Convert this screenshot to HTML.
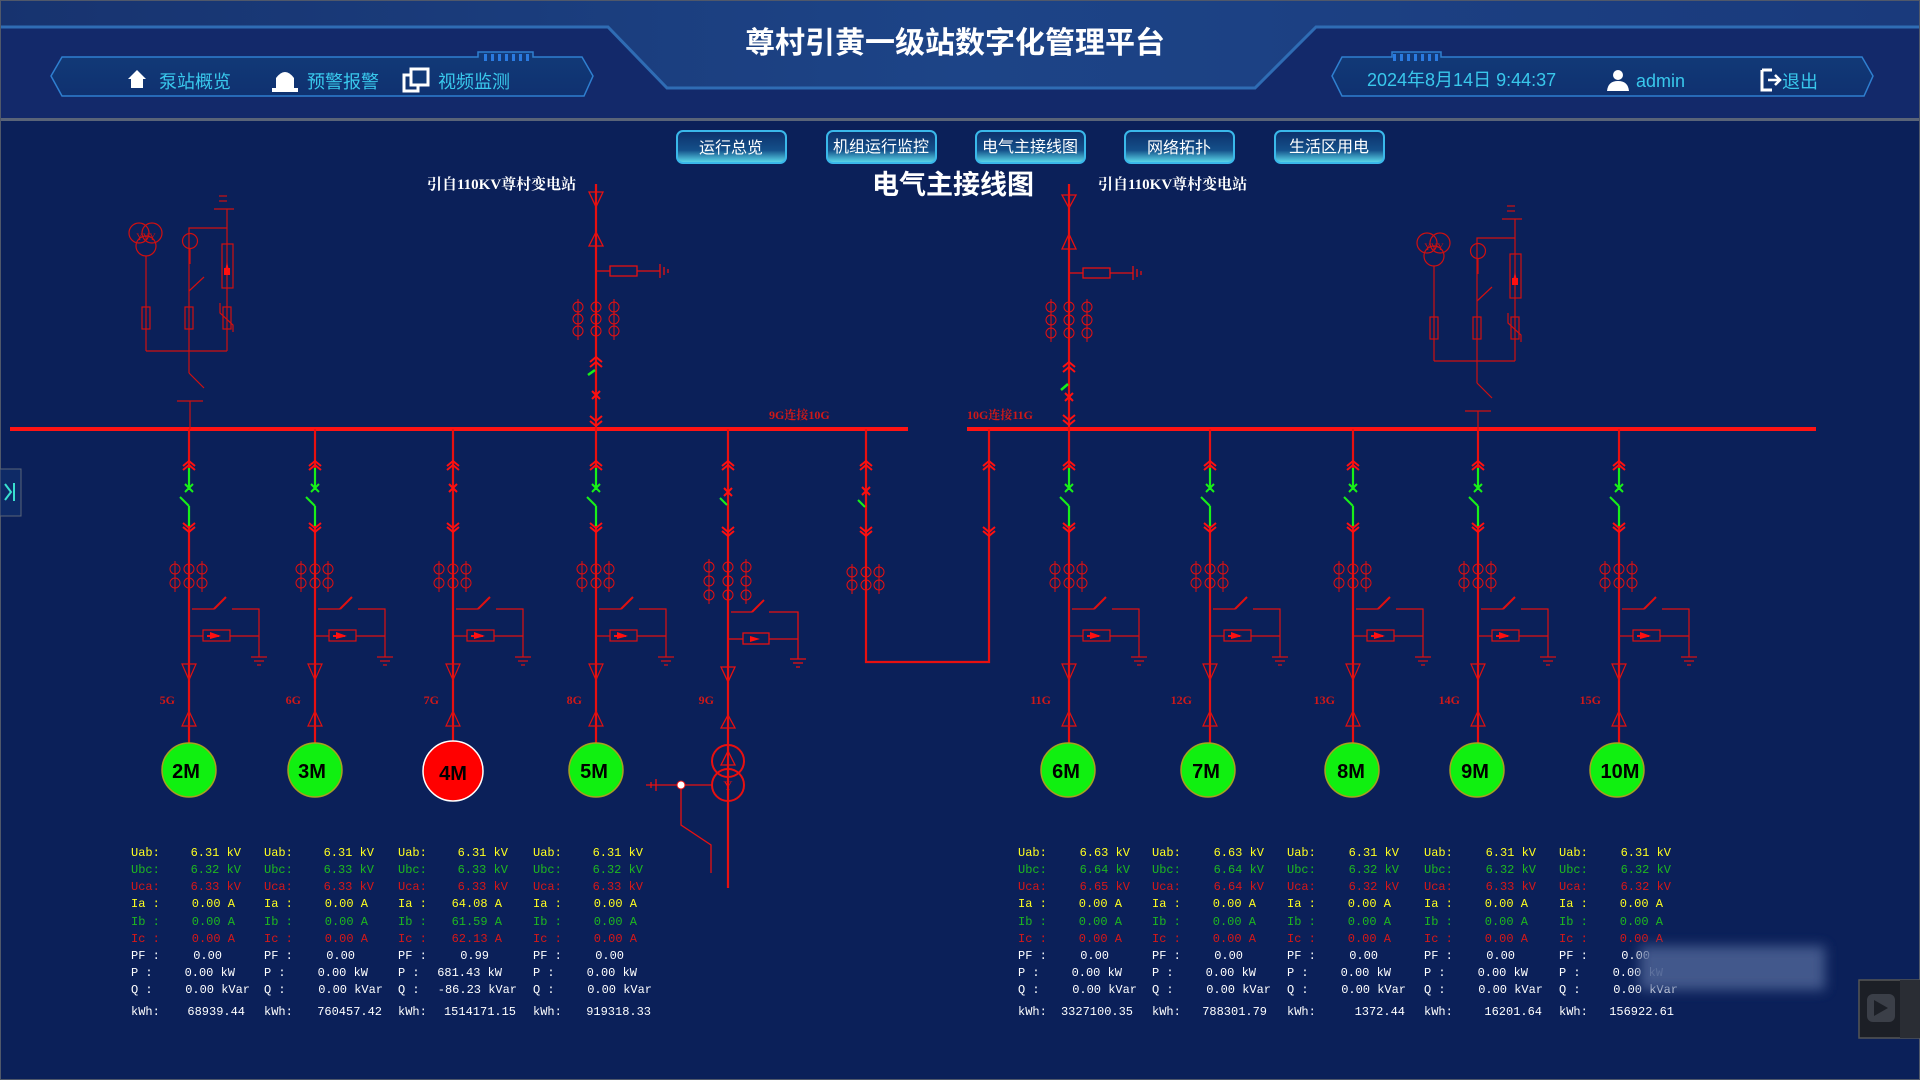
<!DOCTYPE html>
<html><head><meta charset="utf-8"><style>
html,body{margin:0;padding:0;background:#0b2059;}
svg{display:block;}
.t{font-family:"Liberation Mono","Noto Sans CJK SC",monospace;font-size:12px;}
</style></head><body>
<svg width="1920" height="1080" viewBox="0 0 1920 1080" xmlns="http://www.w3.org/2000/svg">
<defs>
<filter id="blur" x="-20%" y="-50%" width="140%" height="200%"><feGaussianBlur stdDeviation="6"/></filter>
<linearGradient id="hb" x1="0" y1="0" x2="1" y2="0"><stop offset="0" stop-color="#17336f"/><stop offset="0.5" stop-color="#1d4487"/><stop offset="1" stop-color="#1a3a7c"/></linearGradient>
<linearGradient id="btn" x1="0" y1="0" x2="0" y2="1"><stop offset="0" stop-color="#0d2f6a"/><stop offset="0.6" stop-color="#14508a"/><stop offset="1" stop-color="#5fe0f0"/></linearGradient>
<linearGradient id="nav" x1="0" y1="0" x2="0" y2="1"><stop offset="0" stop-color="#123a78"/><stop offset="1" stop-color="#0f3170"/></linearGradient>
<g id="ct"><g fill="none" stroke="#e01010" stroke-width="1">
<circle cx="-14" cy="569" r="5"/><circle cx="0" cy="569" r="5"/><circle cx="13" cy="569" r="5"/>
<circle cx="-14" cy="583" r="5"/><circle cx="0" cy="583" r="5"/><circle cx="13" cy="583" r="5"/>
<line x1="-14" y1="561" x2="-14" y2="592"/><line x1="13" y1="561" x2="13" y2="592"/></g></g>
<g id="low"><g fill="none" stroke="#e01010">
<use href="#ct"/>
<line x1="3" y1="609" x2="25" y2="609" stroke-width="1.2"/>
<line x1="25" y1="609" x2="37" y2="597" stroke-width="2"/>
<polyline points="43,609 70,609 70,657" stroke-width="1.2"/>
<line x1="62" y1="657" x2="78" y2="657" stroke-width="1.2"/><line x1="65" y1="661" x2="75" y2="661" stroke-width="1.2"/><line x1="68" y1="665" x2="72" y2="665" stroke-width="1.2"/>
<line x1="0" y1="636" x2="14" y2="636" stroke-width="1.2"/>
<rect x="14" y="630" width="27" height="11" stroke-width="1.2"/>
<line x1="41" y1="636" x2="70" y2="636" stroke-width="1.2"/>
<polygon points="-7,664 7,664 0,680" stroke-width="1.2"/>
<polygon points="0,711 -7,726 7,726" stroke-width="1.2"/>
</g><polygon points="21,632 32,636 21,639" fill="#ff1010"/><line x1="18" y1="636" x2="30" y2="636" stroke="#ff1010" stroke-width="2"/></g>
<g id="chev"><g fill="none" stroke="#ff1010" stroke-width="2">
<polyline points="-6,466 0,461 6,466"/><polyline points="-6,470 0,465 6,470"/>
<polyline points="-6,523 0,528 6,523"/><polyline points="-6,527 0,532 6,527"/></g></g>
<g id="fg"><line x1="0" y1="429" x2="0" y2="468" stroke="#e81010" stroke-width="2.2"/>
<line x1="0" y1="526" x2="0" y2="743" stroke="#e81010" stroke-width="2.2"/>
<line x1="0" y1="468" x2="0" y2="490" stroke="#18f018" stroke-width="2.2"/>
<line x1="0" y1="506" x2="0" y2="526" stroke="#18f018" stroke-width="2.2"/>
<line x1="-9" y1="497" x2="0" y2="506" stroke="#18f018" stroke-width="2"/>
<path d="M-4,484 L4,492 M4,484 L-4,492" stroke="#18f018" stroke-width="2"/>
<use href="#chev"/><use href="#low"/></g>
<g id="fr"><line x1="0" y1="429" x2="0" y2="743" stroke="#e81010" stroke-width="2.2"/>
<path d="M-4,484 L4,492 M4,484 L-4,492" stroke="#ff1010" stroke-width="2"/>
<use href="#chev"/><use href="#low"/></g>
<g id="pt"><g fill="none" stroke="#d01010" stroke-width="1.2">
<line x1="30" y1="196" x2="38" y2="196"/><line x1="30" y1="201" x2="38" y2="201"/><line x1="25" y1="209" x2="45" y2="209"/>
<line x1="38" y1="209" x2="38" y2="351"/>
<polyline points="0,291 0,228 38,228"/>
<circle cx="1" cy="241" r="7.5"/><line x1="1" y1="248" x2="1" y2="264"/>
<line x1="0" y1="291" x2="15" y2="277"/><line x1="0" y1="291" x2="0" y2="351"/>
<rect x="-47" y="307" width="8" height="22"/><rect x="-4" y="307" width="8" height="22"/><rect x="34" y="307" width="8" height="22"/>
<path d="M31,303 L31,313 L44,325 L44,332"/>
<rect x="33" y="244" width="11" height="44"/>
<circle cx="-50" cy="233" r="10"/><circle cx="-37" cy="233" r="10"/><circle cx="-43" cy="246" r="10"/>
<line x1="-43" y1="256" x2="-43" y2="351"/>
<line x1="-43" y1="351" x2="38" y2="351"/>
<line x1="0" y1="351" x2="0" y2="373"/><line x1="0" y1="373" x2="15" y2="388"/>
<line x1="-12" y1="401" x2="14" y2="401"/><line x1="1" y1="401" x2="1" y2="429"/>
</g><polygon points="38,262 35,275 41,275" fill="#ff1010"/><rect x="35" y="268" width="6" height="7" fill="#ff1010"/>
<text x="-43" y="240" font-size="9" fill="#d01010" font-family="Liberation Serif" text-anchor="middle">YYY</text></g>
</defs>

<rect x="0" y="0" width="1920" height="120" fill="url(#hb)"/>
<polygon points="0,27 608,27 667,88 1255,88 1316,27 1920,27 1920,120 0,120" fill="#13296a"/>
<polyline points="0,27 608,27 667,88 1255,88 1316,27 1920,27" fill="none" stroke="#2f6cb4" stroke-width="3"/>
<rect x="0" y="118" width="1920" height="3" fill="#5a6478"/>
<rect x="0" y="0" width="1920" height="1080" fill="none" stroke="#50586a" stroke-width="2"/>
<text x="955" y="53" text-anchor="middle" font-family="Liberation Sans,'Noto Sans CJK SC',sans-serif" font-size="30" font-weight="bold" fill="#fff">尊村引黄一级站数字化管理平台</text>
<polygon points="62,57 478,57 478,52 533,52 533,57 582,57 593,76 584,96 62,96 51,76" fill="url(#nav)" stroke="#2f7fd0" stroke-width="1.5"/>
<g fill="#2a7ae0"><rect x="484" y="54" width="3" height="7"/><rect x="491" y="54" width="3" height="7"/><rect x="498" y="54" width="3" height="7"/><rect x="505" y="54" width="3" height="7"/><rect x="512" y="54" width="3" height="7"/><rect x="519" y="54" width="3" height="7"/><rect x="526" y="54" width="3" height="7"/></g>
<polygon points="137,70 128,79 131,79 131,88 143,88 143,79 146,79" fill="#fff"/>
<path d="M276,89 L276,78 Q285,66 294,78 L294,89 Z" fill="#fff"/><rect x="272" y="88" width="26" height="4" fill="#fff"/>
<rect x="404" y="75" width="14" height="16" fill="none" stroke="#fff" stroke-width="3"/><rect x="411" y="69" width="17" height="16" fill="#123a78" stroke="#fff" stroke-width="3"/>
<g font-family="Liberation Sans,'Noto Sans CJK SC',sans-serif" font-size="18" fill="#39c8ec">
<text x="159" y="88">泵站概览</text><text x="307" y="88">预警报警</text><text x="438" y="88">视频监测</text></g>
<polygon points="1342,57 1392,57 1392,52 1441,52 1441,57 1862,57 1873,76 1864,96 1342,96 1332,76" fill="url(#nav)" stroke="#2f7fd0" stroke-width="1.5"/>
<g fill="#2a7ae0"><rect x="1393" y="54" width="3" height="7"/><rect x="1400" y="54" width="3" height="7"/><rect x="1407" y="54" width="3" height="7"/><rect x="1414" y="54" width="3" height="7"/><rect x="1421" y="54" width="3" height="7"/><rect x="1428" y="54" width="3" height="7"/><rect x="1435" y="54" width="3" height="7"/></g>
<g font-family="Liberation Sans,'Noto Sans CJK SC',sans-serif" font-size="18" fill="#39c8ec">
<text x="1367" y="86">2024年8月14日 9:44:37</text><text x="1636" y="87">admin</text><text x="1782" y="88">退出</text></g>
<circle cx="1618" cy="75" r="5" fill="#fff"/><path d="M1607,91 Q1608,81 1618,81 Q1628,81 1629,91 Z" fill="#fff"/>
<path d="M1762,70 L1762,90 L1772,90 M1762,70 L1772,70" fill="none" stroke="#fff" stroke-width="3"/><path d="M1768,80 L1779,80 M1775,75 L1780,80 L1775,85" fill="none" stroke="#fff" stroke-width="2.5"/>
<g font-family="Liberation Sans,'Noto Sans CJK SC',sans-serif" font-size="16" fill="#fff" text-anchor="middle" stroke="#3ab8ea" stroke-width="2">
<rect x="677" y="131" width="109" height="32" rx="6" fill="url(#btn)"/>
<rect x="827" y="131" width="109" height="32" rx="6" fill="url(#btn)"/>
<rect x="976" y="131" width="109" height="32" rx="6" fill="url(#btn)"/>
<rect x="1125" y="131" width="109" height="32" rx="6" fill="url(#btn)"/>
<rect x="1275" y="131" width="109" height="32" rx="6" fill="url(#btn)"/>
<g stroke="none"><text x="731" y="153">运行总览</text><text x="881" y="152">机组运行监控</text><text x="1030" y="152">电气主接线图</text><text x="1179" y="153">网络拓扑</text><text x="1329" y="152">生活区用电</text></g></g>
<text x="953" y="194" text-anchor="middle" font-family="Liberation Sans,'Noto Sans CJK SC',sans-serif" font-size="27" font-weight="bold" fill="#fff">电气主接线图</text>
<g font-family="Liberation Serif,'Noto Serif CJK SC',serif" font-size="15" font-weight="bold" fill="#fff"><text x="427" y="189">引自110KV尊村变电站</text><text x="1098" y="189">引自110KV尊村变电站</text></g>
<rect x="0" y="469" width="21" height="47" fill="#0e2a66" stroke="#5a6478"/>
<path d="M5,484 L11,492 L5,500 M14,483 L14,501" fill="none" stroke="#39e0d0" stroke-width="2"/>

<rect x="10" y="427" width="898" height="4" fill="#ff1414"/>
<rect x="967" y="427" width="849" height="4" fill="#ff1414"/>
<g font-family="Liberation Serif,'Noto Serif CJK SC',serif" font-size="12" font-weight="bold" fill="#d01818"><text x="769" y="419">9G连接10G</text><text x="967" y="419">10G连接11G</text></g>

<use href="#pt" x="189" y="0"/>
<use href="#pt" x="1477" y="10"/>

<g fill="none" stroke="#e81010" stroke-width="1.3">
<line x1="596" y1="184" x2="596" y2="429" stroke-width="2.2"/>
<polygon points="589,192 603,192 596,207"/><polygon points="596,232 589,246 603,246"/>
<rect x="610" y="266" width="27" height="10"/><line x1="596" y1="271" x2="610" y2="271"/><line x1="637" y1="271" x2="660" y2="271"/>
<line x1="660" y1="264" x2="660" y2="278"/><line x1="664" y1="267" x2="664" y2="275"/><line x1="668" y1="269" x2="668" y2="273"/>
<g stroke-width="1"><circle cx="578" cy="307" r="5"/><circle cx="596" cy="307" r="5"/><circle cx="614" cy="307" r="5"/><circle cx="578" cy="319" r="5"/><circle cx="596" cy="319" r="5"/><circle cx="614" cy="319" r="5"/><circle cx="578" cy="331" r="5"/><circle cx="596" cy="331" r="5"/><circle cx="614" cy="331" r="5"/><line x1="578" y1="299" x2="578" y2="340"/><line x1="614" y1="299" x2="614" y2="340"/></g>
<g stroke="#ff1010" stroke-width="2"><polyline points="590,362 596,357 602,362"/><polyline points="590,367 596,362 602,367"/><polyline points="590,416 596,421 602,416"/><polyline points="590,421 596,426 602,421"/>
<path d="M592,391 L600,399 M600,391 L592,399"/></g></g>
<line x1="588" y1="375" x2="595" y2="370" stroke="#18f018" stroke-width="2.5"/>
<g fill="none" stroke="#e81010" stroke-width="1.3">
<line x1="1069" y1="184" x2="1069" y2="429" stroke-width="2.2"/>
<polygon points="1062,195 1076,195 1069,208"/><polygon points="1069,234 1062,249 1076,249"/>
<rect x="1083" y="268" width="27" height="10"/><line x1="1069" y1="273" x2="1083" y2="273"/><line x1="1110" y1="273" x2="1133" y2="273"/>
<line x1="1133" y1="266" x2="1133" y2="280"/><line x1="1137" y1="269" x2="1137" y2="277"/><line x1="1141" y1="271" x2="1141" y2="275"/>
<g stroke-width="1"><circle cx="1051" cy="307" r="5"/><circle cx="1069" cy="307" r="5"/><circle cx="1087" cy="307" r="5"/><circle cx="1051" cy="320" r="5"/><circle cx="1069" cy="320" r="5"/><circle cx="1087" cy="320" r="5"/><circle cx="1051" cy="333" r="5"/><circle cx="1069" cy="333" r="5"/><circle cx="1087" cy="333" r="5"/><line x1="1051" y1="299" x2="1051" y2="342"/><line x1="1087" y1="299" x2="1087" y2="342"/></g>
<g stroke="#ff1010" stroke-width="2"><polyline points="1063,367 1069,362 1075,367"/><polyline points="1063,372 1069,367 1075,372"/><polyline points="1063,415 1069,420 1075,415"/><polyline points="1063,420 1069,425 1075,420"/>
<path d="M1065,393 L1073,401 M1073,393 L1065,401"/></g></g>
<line x1="1061" y1="390" x2="1068" y2="384" stroke="#18f018" stroke-width="2.5"/>

<use href="#fg" x="189"/><use href="#fg" x="315"/><use href="#fr" x="453"/><use href="#fg" x="596"/>
<use href="#fg" x="1069"/><use href="#fg" x="1210"/><use href="#fg" x="1353"/><use href="#fg" x="1478"/><use href="#fg" x="1619"/>

<g fill="none" stroke="#e81010" stroke-width="1.3">
<line x1="728" y1="429" x2="728" y2="888" stroke-width="2.2"/>
<g stroke="#ff1010" stroke-width="2"><polyline points="722,466 728,461 734,466"/><polyline points="722,470 728,465 734,470"/><polyline points="722,527 728,532 734,527"/><polyline points="722,531 728,536 734,531"/><path d="M724,488 L732,496 M732,488 L724,496"/></g>
<g stroke-width="1"><circle cx="709" cy="567" r="5"/><circle cx="728" cy="567" r="5"/><circle cx="746" cy="567" r="5"/><circle cx="709" cy="581" r="5"/><circle cx="728" cy="581" r="5"/><circle cx="746" cy="581" r="5"/><circle cx="709" cy="595" r="5"/><circle cx="728" cy="595" r="5"/><circle cx="746" cy="595" r="5"/><line x1="709" y1="559" x2="709" y2="604"/><line x1="746" y1="559" x2="746" y2="604"/></g>
<line x1="731" y1="612" x2="752" y2="612"/><line x1="752" y1="612" x2="764" y2="600" stroke-width="2"/>
<polyline points="769,612 798,612 798,659"/><line x1="790" y1="659" x2="806" y2="659"/><line x1="793" y1="663" x2="803" y2="663"/><line x1="796" y1="667" x2="800" y2="667"/>
<line x1="728" y1="639" x2="743" y2="639"/><rect x="743" y="633" width="26" height="11"/><line x1="769" y1="639" x2="798" y2="639"/>
<polygon points="721,667 735,667 728,682"/><polygon points="728,715 721,728 735,728"/>
<circle cx="728" cy="761" r="16" stroke-width="2"/><circle cx="728" cy="785" r="16" stroke-width="2"/>
<polygon points="728,751 721,765 735,765"/>
<line x1="646" y1="785" x2="712" y2="785"/><line x1="656" y1="779" x2="656" y2="791"/><line x1="651" y1="782" x2="651" y2="788"/>
<polyline points="681,785 681,825 711,845 711,873"/>
</g>
<polygon points="750,636 760,639 750,642" fill="#ff1010"/>
<text x="728" y="790" text-anchor="middle" font-family="Liberation Serif" font-size="13" fill="#e81010">Y</text>
<circle cx="681" cy="785" r="4" fill="#fff" stroke="#e81010"/>
<line x1="720" y1="498" x2="727" y2="505" stroke="#18f018" stroke-width="2"/>

<g fill="none" stroke="#e81010" stroke-width="2.2">
<polyline points="866,429 866,662 989,662 989,429"/>
<g stroke="#ff1010" stroke-width="2"><polyline points="860,466 866,461 872,466"/><polyline points="860,470 866,465 872,470"/><polyline points="860,527 866,532 872,527"/><polyline points="860,531 866,536 872,531"/><path d="M862,487 L870,495 M870,487 L862,495"/>
<polyline points="983,466 989,461 995,466"/><polyline points="983,470 989,465 995,470"/><polyline points="983,527 989,532 995,527"/><polyline points="983,531 989,536 995,531"/></g>
<g stroke-width="1"><circle cx="852" cy="572" r="5"/><circle cx="866" cy="572" r="5"/><circle cx="879" cy="572" r="5"/><circle cx="852" cy="585" r="5"/><circle cx="866" cy="585" r="5"/><circle cx="879" cy="585" r="5"/><line x1="852" y1="564" x2="852" y2="594"/><line x1="879" y1="564" x2="879" y2="594"/></g></g>
<line x1="858" y1="500" x2="865" y2="507" stroke="#18f018" stroke-width="2"/>

<g font-family="Liberation Serif,serif" font-size="12" font-weight="bold" fill="#d01818" text-anchor="end">
<text x="175" y="704">5G</text><text x="301" y="704">6G</text><text x="439" y="704">7G</text><text x="582" y="704">8G</text><text x="714" y="704">9G</text>
<text x="1051" y="704">11G</text><text x="1192" y="704">12G</text><text x="1335" y="704">13G</text><text x="1460" y="704">14G</text><text x="1601" y="704">15G</text></g>

<g stroke="#a8a020" stroke-width="1.5" fill="#10f010">
<circle cx="189" cy="770" r="27"/><circle cx="315" cy="770" r="27"/><circle cx="596" cy="770" r="27"/>
<circle cx="1068" cy="770" r="27"/><circle cx="1208" cy="770" r="27"/><circle cx="1352" cy="770" r="27"/><circle cx="1477" cy="770" r="27"/><circle cx="1617" cy="770" r="27"/></g>
<circle cx="453" cy="771" r="30" fill="#ff0000" stroke="#fff" stroke-width="1.5"/>
<g font-family="Liberation Sans,sans-serif" font-size="20" font-weight="bold" fill="#000" text-anchor="middle">
<text x="186" y="778">2M</text><text x="312" y="778">3M</text><text x="453" y="780">4M</text><text x="594" y="778">5M</text>
<text x="1066" y="778">6M</text><text x="1206" y="778">7M</text><text x="1351" y="778">8M</text><text x="1475" y="778">9M</text><text x="1620" y="778">10M</text></g>

<g class="t" xml:space="preserve">
<g transform="translate(131,0)">
<text y="856" fill="#ffff20">Uab:</text><text x="110" y="856" text-anchor="end" fill="#ffff20">6.31 kV</text>
<text y="873" fill="#1fb81f">Ubc:</text><text x="110" y="873" text-anchor="end" fill="#1fb81f">6.32 kV</text>
<text y="890" fill="#d81818">Uca:</text><text x="110" y="890" text-anchor="end" fill="#d81818">6.33 kV</text>
<text y="907" fill="#ffff20">Ia :</text><text x="104" y="907" text-anchor="end" fill="#ffff20">0.00 A</text>
<text y="925" fill="#1fb81f">Ib :</text><text x="104" y="925" text-anchor="end" fill="#1fb81f">0.00 A</text>
<text y="942" fill="#d81818">Ic :</text><text x="104" y="942" text-anchor="end" fill="#d81818">0.00 A</text>
<text y="959" fill="#fff">PF :</text><text x="91" y="959" text-anchor="end" fill="#fff">0.00</text>
<text y="976" fill="#fff">P  :</text><text x="104" y="976" text-anchor="end" fill="#fff">0.00  kW</text>
<text y="993" fill="#fff">Q  :</text><text x="119" y="993" text-anchor="end" fill="#fff">0.00 kVar</text>
<text y="1015" fill="#fff">kWh:</text><text x="114" y="1015" text-anchor="end" fill="#fff">68939.44</text></g>
<g transform="translate(264,0)">
<text y="856" fill="#ffff20">Uab:</text><text x="110" y="856" text-anchor="end" fill="#ffff20">6.31 kV</text>
<text y="873" fill="#1fb81f">Ubc:</text><text x="110" y="873" text-anchor="end" fill="#1fb81f">6.33 kV</text>
<text y="890" fill="#d81818">Uca:</text><text x="110" y="890" text-anchor="end" fill="#d81818">6.33 kV</text>
<text y="907" fill="#ffff20">Ia :</text><text x="104" y="907" text-anchor="end" fill="#ffff20">0.00 A</text>
<text y="925" fill="#1fb81f">Ib :</text><text x="104" y="925" text-anchor="end" fill="#1fb81f">0.00 A</text>
<text y="942" fill="#d81818">Ic :</text><text x="104" y="942" text-anchor="end" fill="#d81818">0.00 A</text>
<text y="959" fill="#fff">PF :</text><text x="91" y="959" text-anchor="end" fill="#fff">0.00</text>
<text y="976" fill="#fff">P  :</text><text x="104" y="976" text-anchor="end" fill="#fff">0.00  kW</text>
<text y="993" fill="#fff">Q  :</text><text x="119" y="993" text-anchor="end" fill="#fff">0.00 kVar</text>
<text y="1015" fill="#fff">kWh:</text><text x="118" y="1015" text-anchor="end" fill="#fff">760457.42</text></g>
<g transform="translate(398,0)">
<text y="856" fill="#ffff20">Uab:</text><text x="110" y="856" text-anchor="end" fill="#ffff20">6.31 kV</text>
<text y="873" fill="#1fb81f">Ubc:</text><text x="110" y="873" text-anchor="end" fill="#1fb81f">6.33 kV</text>
<text y="890" fill="#d81818">Uca:</text><text x="110" y="890" text-anchor="end" fill="#d81818">6.33 kV</text>
<text y="907" fill="#ffff20">Ia :</text><text x="104" y="907" text-anchor="end" fill="#ffff20">64.08 A</text>
<text y="925" fill="#1fb81f">Ib :</text><text x="104" y="925" text-anchor="end" fill="#1fb81f">61.59 A</text>
<text y="942" fill="#d81818">Ic :</text><text x="104" y="942" text-anchor="end" fill="#d81818">62.13 A</text>
<text y="959" fill="#fff">PF :</text><text x="91" y="959" text-anchor="end" fill="#fff">0.99</text>
<text y="976" fill="#fff">P  :</text><text x="104" y="976" text-anchor="end" fill="#fff">681.43  kW</text>
<text y="993" fill="#fff">Q  :</text><text x="119" y="993" text-anchor="end" fill="#fff">-86.23 kVar</text>
<text y="1015" fill="#fff">kWh:</text><text x="118" y="1015" text-anchor="end" fill="#fff">1514171.15</text></g>
<g transform="translate(533,0)">
<text y="856" fill="#ffff20">Uab:</text><text x="110" y="856" text-anchor="end" fill="#ffff20">6.31 kV</text>
<text y="873" fill="#1fb81f">Ubc:</text><text x="110" y="873" text-anchor="end" fill="#1fb81f">6.32 kV</text>
<text y="890" fill="#d81818">Uca:</text><text x="110" y="890" text-anchor="end" fill="#d81818">6.33 kV</text>
<text y="907" fill="#ffff20">Ia :</text><text x="104" y="907" text-anchor="end" fill="#ffff20">0.00 A</text>
<text y="925" fill="#1fb81f">Ib :</text><text x="104" y="925" text-anchor="end" fill="#1fb81f">0.00 A</text>
<text y="942" fill="#d81818">Ic :</text><text x="104" y="942" text-anchor="end" fill="#d81818">0.00 A</text>
<text y="959" fill="#fff">PF :</text><text x="91" y="959" text-anchor="end" fill="#fff">0.00</text>
<text y="976" fill="#fff">P  :</text><text x="104" y="976" text-anchor="end" fill="#fff">0.00  kW</text>
<text y="993" fill="#fff">Q  :</text><text x="119" y="993" text-anchor="end" fill="#fff">0.00 kVar</text>
<text y="1015" fill="#fff">kWh:</text><text x="118" y="1015" text-anchor="end" fill="#fff">919318.33</text></g>

<g transform="translate(1018,0)">
<text y="856" fill="#ffff20">Uab:</text><text x="112" y="856" text-anchor="end" fill="#ffff20">6.63 kV</text>
<text y="873" fill="#1fb81f">Ubc:</text><text x="112" y="873" text-anchor="end" fill="#1fb81f">6.64 kV</text>
<text y="890" fill="#d81818">Uca:</text><text x="112" y="890" text-anchor="end" fill="#d81818">6.65 kV</text>
<text y="907" fill="#ffff20">Ia :</text><text x="104" y="907" text-anchor="end" fill="#ffff20">0.00 A</text>
<text y="925" fill="#1fb81f">Ib :</text><text x="104" y="925" text-anchor="end" fill="#1fb81f">0.00 A</text>
<text y="942" fill="#d81818">Ic :</text><text x="104" y="942" text-anchor="end" fill="#d81818">0.00 A</text>
<text y="959" fill="#fff">PF :</text><text x="91" y="959" text-anchor="end" fill="#fff">0.00</text>
<text y="976" fill="#fff">P  :</text><text x="104" y="976" text-anchor="end" fill="#fff">0.00  kW</text>
<text y="993" fill="#fff">Q  :</text><text x="119" y="993" text-anchor="end" fill="#fff">0.00 kVar</text>
<text y="1015" fill="#fff">kWh:</text><text x="115" y="1015" text-anchor="end" fill="#fff">3327100.35</text></g>
<g transform="translate(1152,0)">
<text y="856" fill="#ffff20">Uab:</text><text x="112" y="856" text-anchor="end" fill="#ffff20">6.63 kV</text>
<text y="873" fill="#1fb81f">Ubc:</text><text x="112" y="873" text-anchor="end" fill="#1fb81f">6.64 kV</text>
<text y="890" fill="#d81818">Uca:</text><text x="112" y="890" text-anchor="end" fill="#d81818">6.64 kV</text>
<text y="907" fill="#ffff20">Ia :</text><text x="104" y="907" text-anchor="end" fill="#ffff20">0.00 A</text>
<text y="925" fill="#1fb81f">Ib :</text><text x="104" y="925" text-anchor="end" fill="#1fb81f">0.00 A</text>
<text y="942" fill="#d81818">Ic :</text><text x="104" y="942" text-anchor="end" fill="#d81818">0.00 A</text>
<text y="959" fill="#fff">PF :</text><text x="91" y="959" text-anchor="end" fill="#fff">0.00</text>
<text y="976" fill="#fff">P  :</text><text x="104" y="976" text-anchor="end" fill="#fff">0.00  kW</text>
<text y="993" fill="#fff">Q  :</text><text x="119" y="993" text-anchor="end" fill="#fff">0.00 kVar</text>
<text y="1015" fill="#fff">kWh:</text><text x="115" y="1015" text-anchor="end" fill="#fff">788301.79</text></g>
<g transform="translate(1287,0)">
<text y="856" fill="#ffff20">Uab:</text><text x="112" y="856" text-anchor="end" fill="#ffff20">6.31 kV</text>
<text y="873" fill="#1fb81f">Ubc:</text><text x="112" y="873" text-anchor="end" fill="#1fb81f">6.32 kV</text>
<text y="890" fill="#d81818">Uca:</text><text x="112" y="890" text-anchor="end" fill="#d81818">6.32 kV</text>
<text y="907" fill="#ffff20">Ia :</text><text x="104" y="907" text-anchor="end" fill="#ffff20">0.00 A</text>
<text y="925" fill="#1fb81f">Ib :</text><text x="104" y="925" text-anchor="end" fill="#1fb81f">0.00 A</text>
<text y="942" fill="#d81818">Ic :</text><text x="104" y="942" text-anchor="end" fill="#d81818">0.00 A</text>
<text y="959" fill="#fff">PF :</text><text x="91" y="959" text-anchor="end" fill="#fff">0.00</text>
<text y="976" fill="#fff">P  :</text><text x="104" y="976" text-anchor="end" fill="#fff">0.00  kW</text>
<text y="993" fill="#fff">Q  :</text><text x="119" y="993" text-anchor="end" fill="#fff">0.00 kVar</text>
<text y="1015" fill="#fff">kWh:</text><text x="118" y="1015" text-anchor="end" fill="#fff">1372.44</text></g>
<g transform="translate(1424,0)">
<text y="856" fill="#ffff20">Uab:</text><text x="112" y="856" text-anchor="end" fill="#ffff20">6.31 kV</text>
<text y="873" fill="#1fb81f">Ubc:</text><text x="112" y="873" text-anchor="end" fill="#1fb81f">6.32 kV</text>
<text y="890" fill="#d81818">Uca:</text><text x="112" y="890" text-anchor="end" fill="#d81818">6.33 kV</text>
<text y="907" fill="#ffff20">Ia :</text><text x="104" y="907" text-anchor="end" fill="#ffff20">0.00 A</text>
<text y="925" fill="#1fb81f">Ib :</text><text x="104" y="925" text-anchor="end" fill="#1fb81f">0.00 A</text>
<text y="942" fill="#d81818">Ic :</text><text x="104" y="942" text-anchor="end" fill="#d81818">0.00 A</text>
<text y="959" fill="#fff">PF :</text><text x="91" y="959" text-anchor="end" fill="#fff">0.00</text>
<text y="976" fill="#fff">P  :</text><text x="104" y="976" text-anchor="end" fill="#fff">0.00  kW</text>
<text y="993" fill="#fff">Q  :</text><text x="119" y="993" text-anchor="end" fill="#fff">0.00 kVar</text>
<text y="1015" fill="#fff">kWh:</text><text x="118" y="1015" text-anchor="end" fill="#fff">16201.64</text></g>
<g transform="translate(1559,0)">
<text y="856" fill="#ffff20">Uab:</text><text x="112" y="856" text-anchor="end" fill="#ffff20">6.31 kV</text>
<text y="873" fill="#1fb81f">Ubc:</text><text x="112" y="873" text-anchor="end" fill="#1fb81f">6.32 kV</text>
<text y="890" fill="#d81818">Uca:</text><text x="112" y="890" text-anchor="end" fill="#d81818">6.32 kV</text>
<text y="907" fill="#ffff20">Ia :</text><text x="104" y="907" text-anchor="end" fill="#ffff20">0.00 A</text>
<text y="925" fill="#1fb81f">Ib :</text><text x="104" y="925" text-anchor="end" fill="#1fb81f">0.00 A</text>
<text y="942" fill="#d81818">Ic :</text><text x="104" y="942" text-anchor="end" fill="#d81818">0.00 A</text>
<text y="959" fill="#fff">PF :</text><text x="91" y="959" text-anchor="end" fill="#fff">0.00</text>
<text y="976" fill="#fff">P  :</text><text x="104" y="976" text-anchor="end" fill="#fff">0.00  kW</text>
<text y="993" fill="#fff">Q  :</text><text x="119" y="993" text-anchor="end" fill="#fff">0.00 kVar</text>
<text y="1015" fill="#fff">kWh:</text><text x="115" y="1015" text-anchor="end" fill="#fff">156922.61</text></g>
</g>
<rect x="1640" y="946" width="185" height="44" fill="#4a5e92" opacity="0.9" filter="url(#blur)"/>
<rect x="1859" y="980" width="61" height="58" fill="#1c1f26" stroke="#555" stroke-width="1.5"/>
<rect x="1867" y="994" width="28" height="28" rx="6" fill="#3b3f48"/>
<polygon points="1874,1000 1888,1008 1874,1016" fill="#1c1f26"/>
<rect x="1900" y="980" width="20" height="58" fill="#2a2d34"/>
</svg>
</body></html>
